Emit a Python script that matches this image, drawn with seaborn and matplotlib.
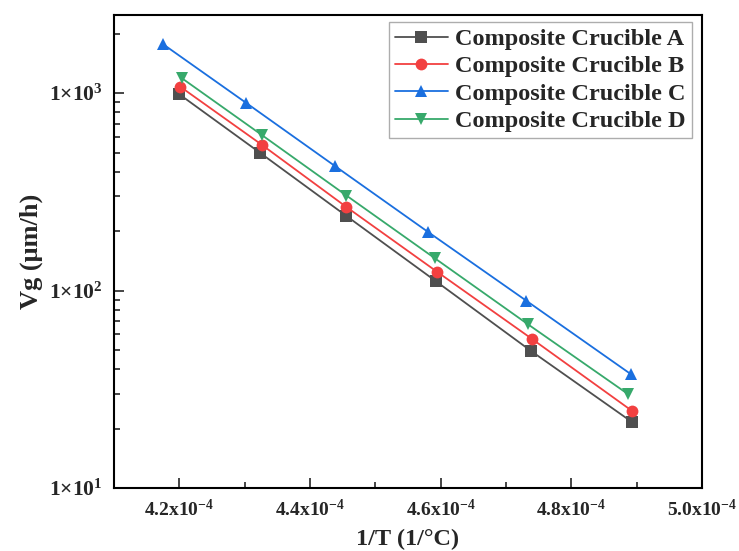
import numpy as np
import pandas as pd
import matplotlib
matplotlib.use('Agg')
import matplotlib.pyplot as plt
import matplotlib.ticker as mticker
import seaborn as sns

# values
x_a = [4.200e-4, 4.324e-4, 4.455e-4, 4.593e-4, 4.738e-4, 4.893e-4]
y_a = [988, 498, 240, 111.5, 49.6, 21.6]
x_b = [4.202e-4, 4.326e-4, 4.456e-4, 4.594e-4, 4.740e-4, 4.893e-4]
y_b = [1076, 549, 265, 125, 56.9, 24.6]
x_c = [4.175e-4, 4.303e-4, 4.439e-4, 4.581e-4, 4.731e-4, 4.891e-4]
y_c = [1773, 890, 426, 198, 89, 37.8]
x_d = [4.204e-4, 4.327e-4, 4.456e-4, 4.591e-4, 4.733e-4, 4.887e-4]
y_d = [1191, 612, 303, 146, 67.8, 29.9]

names = ['Composite Crucible A', 'Composite Crucible B',
         'Composite Crucible C', 'Composite Crucible D']
colors = ['#4f4f4f', '#f24040', '#1a6fdf', '#37a96b']
markers = ['s', 'o', '^', 'v']

df = pd.concat([
    pd.DataFrame({'x': x, 'y': y, 'series': n})
    for x, y, n in zip([x_a, x_b, x_c, x_d], [y_a, y_b, y_c, y_d], names)
], ignore_index=True)

sns.set_style('ticks')
plt.rcParams['font.family'] = ['Liberation Serif', 'DejaVu Serif']
plt.rcParams['font.weight'] = 'bold'
plt.rcParams['mathtext.fontset'] = 'custom'
plt.rcParams['mathtext.rm'] = 'Liberation Serif:bold'
plt.rcParams['mathtext.bf'] = 'Liberation Serif:bold'
plt.rcParams['mathtext.default'] = 'bf'

fig = plt.figure(figsize=(7.39, 5.51), dpi=100)
ax = fig.add_axes([0.154, 0.114, 0.796, 0.859])

sns.lineplot(data=df, x='x', y='y', hue='series', style='series',
             palette=dict(zip(names, colors)), markers=dict(zip(names, markers)),
             dashes=False, markersize=8.5, linewidth=1.3, markeredgewidth=0,
             sort=False, ax=ax)

ax.set_yscale('log')
ax.set_xlim(4.1e-4, 5.0e-4)
ax.set_ylim(10, 2490)

ax.xaxis.set_major_locator(mticker.MultipleLocator(0.2e-4))
ax.xaxis.set_minor_locator(mticker.MultipleLocator(0.1e-4))
ax.xaxis.set_major_formatter(mticker.FuncFormatter(
    lambda v, p: f'{v * 1e4:.1f}x10$^{{-4}}$'))
ax.yaxis.set_major_locator(mticker.LogLocator(base=10))
ax.yaxis.set_minor_locator(mticker.LogLocator(base=10, subs=np.arange(2, 10)))
ax.yaxis.set_major_formatter(mticker.FuncFormatter(
    lambda v, p: f'1×10$^{{{int(round(np.log10(v)))}}}$'))
ax.yaxis.set_minor_formatter(mticker.NullFormatter())

ax.tick_params(which='both', direction='in', top=False, right=False,
               width=1.2, pad=8)
ax.tick_params(axis='x', labelsize=14)
ax.tick_params(axis='y', labelsize=15.5)
ax.tick_params(which='major', length=7)
ax.tick_params(which='minor', length=4)
for s in ax.spines.values():
    s.set_linewidth(1.5)
    s.set_color('black')

ax.set_xlabel('1/T (1/°C)', fontsize=17.5, fontweight='bold', labelpad=6)
ax.set_ylabel('Vg (μm/h)', fontsize=19, fontweight='bold', labelpad=4)

leg = ax.legend(loc='upper right', bbox_to_anchor=(0.983, 0.985),
                fontsize=17.5, frameon=True, fancybox=False, edgecolor='#999999',
                handlelength=2.2, handletextpad=0.3, borderpad=0.25,
                labelspacing=0.22, borderaxespad=0.0)
leg.get_frame().set_linewidth(1.0)
for t in leg.get_texts():
    t.set_fontweight('bold')

fig.savefig('out.png', dpi=100)
